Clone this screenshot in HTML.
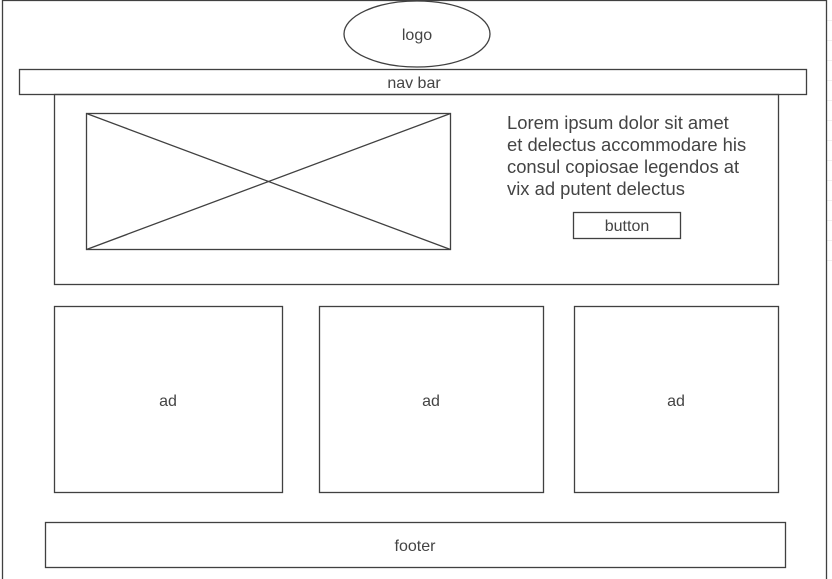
<!DOCTYPE html>
<html><head><meta charset="utf-8"><style>
html,body{margin:0;padding:0;background:#fff;}
svg{display:block;font-family:"Liberation Sans",Arial,sans-serif;}
</style></head><body>
<svg width="832" height="579" viewBox="0 0 832 579">
<g stroke="#eee" stroke-width="1">
<line x1="827" y1="20.5" x2="832" y2="20.5"/><line x1="827" y1="40.5" x2="832" y2="40.5"/><line x1="827" y1="60.5" x2="832" y2="60.5"/><line x1="827" y1="80.5" x2="832" y2="80.5"/><line x1="827" y1="100.5" x2="832" y2="100.5"/><line x1="827" y1="120.5" x2="832" y2="120.5"/><line x1="827" y1="140.5" x2="832" y2="140.5"/><line x1="827" y1="160.5" x2="832" y2="160.5"/><line x1="827" y1="180.5" x2="832" y2="180.5"/><line x1="827" y1="200.5" x2="832" y2="200.5"/><line x1="827" y1="220.5" x2="832" y2="220.5"/><line x1="827" y1="240.5" x2="832" y2="240.5"/><line x1="827" y1="260.5" x2="832" y2="260.5"/>
</g>
<g fill="none" stroke="#404040" stroke-width="1.3">
<path d="M2.5 579 V0.5 H826.5 V579"/>
<ellipse cx="417" cy="34" rx="73" ry="33" fill="#fff"/>
<rect x="19.5" y="69.5" width="787" height="25" fill="#fff"/>
<rect x="54.5" y="94.5" width="724" height="190"/>
<g>
<rect x="86.5" y="113.5" width="364" height="136"/>
<line x1="86.5" y1="113.5" x2="450.5" y2="249.5"/>
<line x1="450.5" y1="113.5" x2="86.5" y2="249.5"/>
</g>
<rect x="573.5" y="212.5" width="107" height="26"/>
<rect x="54.5" y="306.5" width="228" height="186"/>
<rect x="319.5" y="306.5" width="224" height="186"/>
<rect x="574.5" y="306.5" width="204" height="186"/>
<rect x="45.5" y="522.5" width="740" height="45"/>
</g>
<g fill="#444" font-size="16" text-anchor="middle">
<text x="417" y="40">logo</text>
<text x="414" y="88">nav bar</text>
<text x="627" y="231">button</text>
<text x="168" y="406">ad</text>
<text x="431" y="406">ad</text>
<text x="676" y="406">ad</text>
<text x="415" y="551">footer</text>
</g>
<g fill="#444" font-size="18.4">
<text x="507" y="129">Lorem ipsum dolor sit amet</text>
<text x="507" y="151">et delectus accommodare his</text>
<text x="507" y="173">consul copiosae legendos at</text>
<text x="507" y="195">vix ad putent delectus</text>
</g>
</svg>
</body></html>
